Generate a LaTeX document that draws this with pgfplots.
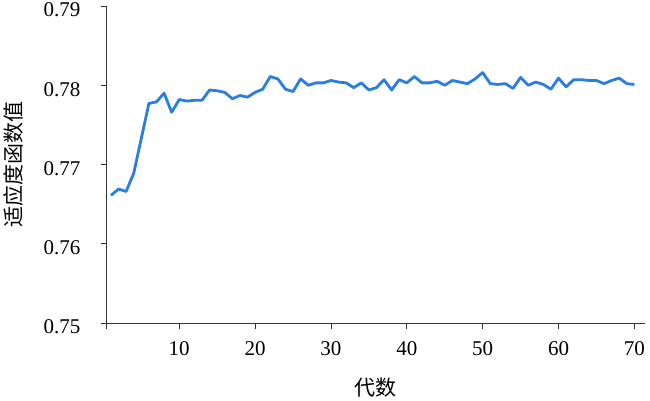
\documentclass[border=0pt]{standalone}
\usepackage{pgfplots}
\pgfplotsset{compat=1.18}
\usepackage{fontspec}
\setmainfont{Liberation Serif}
\newfontfamily\cjk{Noto Sans CJK SC}
\definecolor{lineblue}{RGB}{40,126,226}
\begin{document}
\begin{tikzpicture}
\begin{axis}[
  name=ax,
  scale only axis,
  width=538.2pt, height=317pt,
  xmin=0.45, xmax=71.4,
  ymin=0.75, ymax=0.79,
  axis lines=left,
  axis line style={-, black!80, line width=0.8pt},
  tick style={black!80, line width=0.8pt},
  tick align=outside,
  major tick length=6pt,
  xtick={10,20,...,70},
  ytick={0.75,0.76,0.77,0.78,0.79},
  extra x ticks={0.45},
  extra x tick labels={},
  font=\fontsize{21}{25}\selectfont,
  /pgf/number format/assume math mode=true,
  yticklabel style={/pgf/number format/fixed, /pgf/number format/precision=2, /pgf/number format/fixed zerofill, xshift=-17pt, yshift=-4pt},
  xticklabel style={yshift=-9pt},
  xlabel={\cjk 代数},
  ylabel={\cjk 适应度函数值},
  xlabel style={at={(axis description cs:0.5,-0.205)}, anchor=center},
  ylabel style={at={(axis description cs:-0.173,0.5)}, anchor=center},
  clip=false,
]
\addplot[lineblue, line width=2.8pt, line join=round] coordinates {
(1,0.7661) (2,0.7669) (3,0.7666) (4,0.7689) (5,0.7733) (6,0.7777) (7,0.7779) (8,0.7790) (9,0.7766) (10,0.7782)
(11,0.7780) (12,0.7781) (13,0.7781) (14,0.7794) (15,0.7793) (16,0.7791) (17,0.7783) (18,0.7787) (19,0.7785) (20,0.7791)
(21,0.7795) (22,0.7811) (23,0.7808) (24,0.7795) (25,0.7792) (26,0.7808) (27,0.7800) (28,0.7803) (29,0.7803) (30,0.7806)
(31,0.7804) (32,0.7803) (33,0.7797) (34,0.7803) (35,0.7794) (36,0.7797) (37,0.7807) (38,0.7794) (39,0.7807) (40,0.7803)
(41,0.7811) (42,0.7803) (43,0.7803) (44,0.7805) (45,0.7800) (46,0.7806) (47,0.7804) (48,0.7802) (49,0.7808) (50,0.7816)
(51,0.7802) (52,0.7801) (53,0.7802) (54,0.7796) (55,0.7810) (56,0.7800) (57,0.7804) (58,0.7801) (59,0.7795) (60,0.7809)
(61,0.7798) (62,0.7807) (63,0.7807) (64,0.7806) (65,0.7806) (66,0.7802) (67,0.7806) (68,0.7809) (69,0.7802) (70,0.7801)
};
\end{axis}
\pgfresetboundingbox
\path ([shift={(-106.8pt,-78pt)}]ax.south west) rectangle ([shift={(5pt,6pt)}]ax.north east);
\end{tikzpicture}
\end{document}
